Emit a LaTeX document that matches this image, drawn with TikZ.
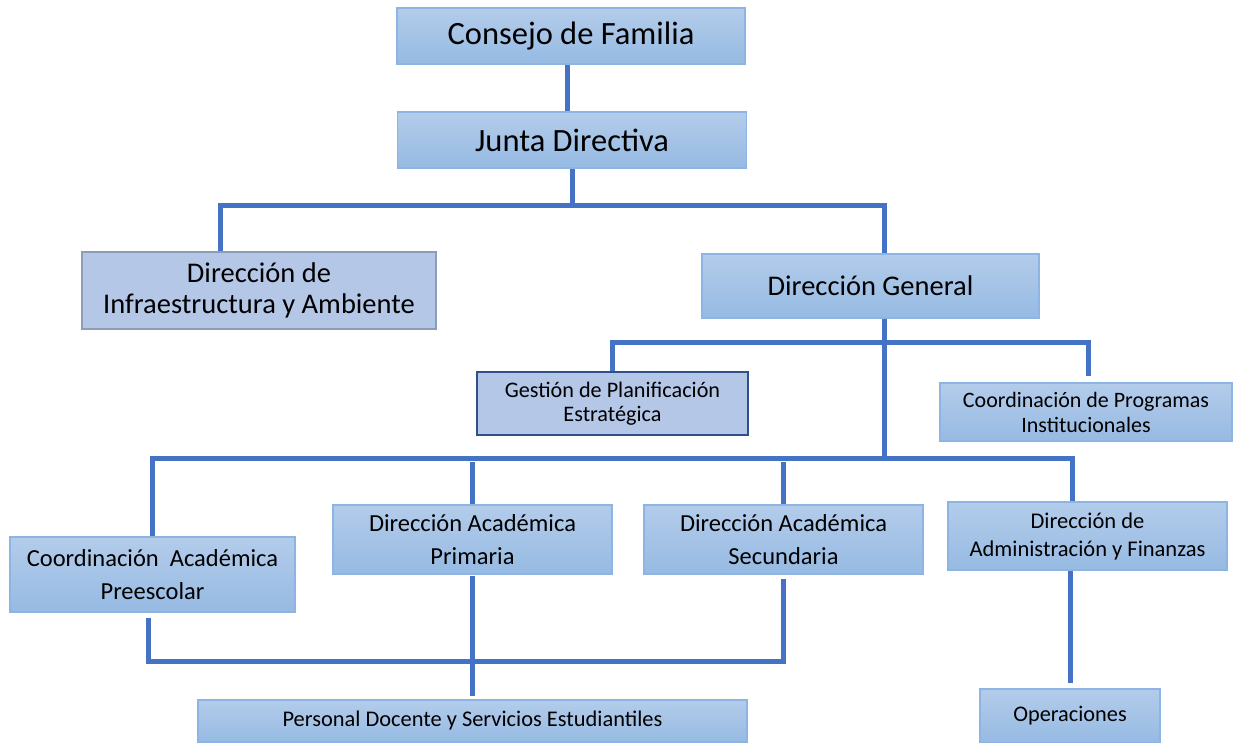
\documentclass[tikz,border=0pt]{standalone}
\usepackage{fontspec}
\setmainfont{Carlito}
\usepackage{tikz}
\usetikzlibrary{positioning}

\definecolor{boxtop}{HTML}{B3CCEA}
\definecolor{boxbot}{HTML}{96BAE3}
\definecolor{boxedge}{HTML}{8DB4E2}
\definecolor{flatfill}{HTML}{B4C7E7}
\definecolor{flatedge}{HTML}{8C9DB5}
\definecolor{linkblue}{HTML}{4472C4}

\begin{document}
\begin{tikzpicture}[
    x=1pt, y=-1pt,
    node/.style={rectangle, draw=boxedge, line width=1.2pt, top color=boxtop, bottom color=boxbot, align=center, inner sep=0pt},
    % the two boxes without the shading
    flatnode/.style={rectangle, fill=flatfill, line width=1.6pt, align=center, inner sep=0pt},
    link/.style={draw=linkblue, line width=5pt}
  ]
    \useasboundingbox (0,0) rectangle (1233,742);

    %--- Top levels ---
    \node[node, minimum width=348pt, minimum height=56pt, font=\fontsize{32.5}{35}\selectfont] (consejo) at (571,36) {Consejo de Familia};
    \node[node, minimum width=349pt, minimum height=56pt, font=\fontsize{32.5}{35}\selectfont] (junta) at (572,140) {Junta Directiva};

    \node[flatnode, draw=flatedge, minimum width=354pt, minimum height=77pt, font=\fontsize{28.5}{31}\selectfont] (dir_infra) at (259,290.5) {Dirección de\\Infraestructura y Ambiente};
    \node[node, minimum width=337pt, minimum height=64pt, font=\fontsize{28.5}{31}\selectfont] (dir_gen) at (870.5,286) {Dirección General};

    %--- Staff under the Dirección General ---
    \node[flatnode, draw=linkblue!70!black, minimum width=271pt, minimum height=63pt, font=\fontsize{22.2}{24}\selectfont] (gest_plan) at (612.5,403.5) {Gestión de Planificación\\Estratégica};
    \node[node, minimum width=292pt, minimum height=58pt, font=\fontsize{22}{25}\selectfont] (coord_prog) at (1086,412) {Coordinación de Programas\\Institucionales};

    %--- Row of directions ---
    \node[node, minimum width=285pt, minimum height=75pt, font=\fontsize{24.5}{32.5}\selectfont] (coord_pre) at (152.5,574.5) {Coordinación\ \ Académica\\Preescolar};
    \node[node, minimum width=279pt, minimum height=69pt, font=\fontsize{24.5}{32.5}\selectfont] (dir_prim) at (472.5,539.5) {Dirección Académica\\Primaria};
    \node[node, minimum width=279pt, minimum height=69pt, font=\fontsize{24.5}{32.5}\selectfont] (dir_sec) at (783.5,539.5) {Dirección Académica\\Secundaria};
    \node[node, minimum width=279pt, minimum height=68pt, font=\fontsize{22.5}{28}\selectfont] (dir_adm) at (1087.5,536) {Dirección de\\Administración y Finanzas};

    %--- Bottom ---
    \node[node, minimum width=549pt, minimum height=42pt, font=\fontsize{22.4}{25}\selectfont] (personal) at (472.5,721) {Personal Docente y Servicios Estudiantiles};
    \node[node, minimum width=180pt, minimum height=54pt, font=\fontsize{22.3}{25}\selectfont] (operaciones) at (1070,716) {Operaciones};

    %--- Connectors (the bars sit off the box centres, hence the shifts)
    \draw[link] ([xshift=-4pt]consejo.south) -- ([xshift=-4pt]consejo.south |- junta.north);

    \draw[link] (junta.south) -- ++(0,37) coordinate (junta_bar);
    \draw[link] ([xshift=-39pt]dir_infra.north) |- (junta_bar) -| ([xshift=13.5pt]dir_gen.north);

    \path ([xshift=13.5pt]dir_gen.south) ++(0,24) coordinate (gen_bar) ++(0,116) coordinate (low_bar);
    \draw[link] ([xshift=13.5pt]dir_gen.south) -- (low_bar);
    \draw[link] (gest_plan.north) |- (gen_bar) -| ([xshift=2pt,yshift=6pt]coord_prog.north);

    \draw[link] (coord_pre.north) |- (low_bar) -| ([xshift=-15.5pt]dir_adm.north);
    % these two stop just short of the bar
    \draw[link] (dir_prim.north) -- ++(0,-42);
    \draw[link] (dir_sec.north) -- ++(0,-42);

    \draw[link] ([xshift=-4.5pt,yshift=-5pt]coord_pre.south) -- ++(0,44) -| ([yshift=-4pt]dir_sec.south);
    \draw[link] ([yshift=-1pt]dir_prim.south) -- ([yshift=3pt]personal.north);

    \draw[link] ([yshift=5pt]operaciones.north) -- (operaciones.north |- dir_adm.south);
  \end{tikzpicture}
\end{document}
